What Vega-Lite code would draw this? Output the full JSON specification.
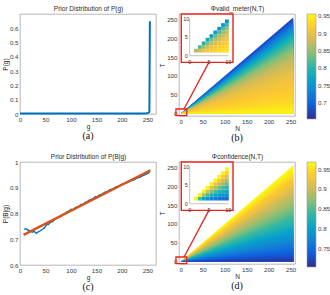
{
"$schema": "https://vega.github.io/schema/vega-lite/v6.json",
"background": "white",
"padding": {"left": 2, "top": 4, "right": 0, "bottom": 0},
"columns": 2,
"spacing": {"row": 45, "column": 23},
"bounds": "flush",
"align": "all",
"config": {
  "font": "Liberation Sans",
  "view": {"stroke": "#9a9a9a", "strokeWidth": 0.7},
  "axis": {"labelFont": "Liberation Sans", "labelFontSize": 6.2, "labelColor": "#3a3a3a", "titleFont": "Liberation Sans", "titleFontSize": 6.5, "titleFontWeight": "normal", "titleColor": "#2a2a2a", "ticks": false, "domain": false, "grid": false, "labelPadding": 2, "titlePadding": 1, "labelFlush": false, "labelOverlap": false},
  "legend": {"labelFont": "Liberation Sans", "labelFontSize": 6.2, "labelColor": "#3a3a3a", "gradientThickness": 9, "gradientLength": 105, "offset": 12, "labelOverlap": false, "gradientStrokeColor": "#9a9a9a", "gradientStrokeWidth": 0.6, "labelOffset": 2, "padding": 0},
  "title": {"font": "Liberation Serif", "fontSize": 10, "fontWeight": "normal", "color": "#111111", "orient": "bottom", "offset": 1}
},
"resolve": {"scale": {"color": "independent"}, "legend": {"color": "independent"}},
"datasets": {
  "a": [{"g":0,"p":0.004},{"g":50,"p":0.004},{"g":100,"p":0.004},{"g":150,"p":0.004},{"g":200,"p":0.004},{"g":240,"p":0.004},{"g":248,"p":0.005},{"g":252,"p":0.008},{"g":254,"p":0.015},{"g":255,"p":0.65}],
  "bc": [{"g":8,"y":0.738},{"g":12,"y":0.741},{"g":16,"y":0.735},{"g":20,"y":0.733},{"g":24,"y":0.727},{"g":28,"y":0.731},{"g":32,"y":0.723},{"g":36,"y":0.729},{"g":40,"y":0.733},{"g":44,"y":0.739},{"g":48,"y":0.744},{"g":52,"y":0.756},{"g":56,"y":0.758},{"g":60,"y":0.766},{"g":64,"y":0.768},{"g":68,"y":0.777},{"g":72,"y":0.781},{"g":76,"y":0.786},{"g":80,"y":0.788},{"g":84,"y":0.796},{"g":88,"y":0.798},{"g":92,"y":0.806},{"g":96,"y":0.809},{"g":100,"y":0.816},{"g":104,"y":0.814},{"g":108,"y":0.822},{"g":112,"y":0.826},{"g":116,"y":0.829},{"g":120,"y":0.835},{"g":124,"y":0.836},{"g":128,"y":0.843},{"g":132,"y":0.846},{"g":136,"y":0.852},{"g":140,"y":0.855},{"g":144,"y":0.859},{"g":148,"y":0.865},{"g":152,"y":0.866},{"g":156,"y":0.872},{"g":160,"y":0.874},{"g":164,"y":0.879},{"g":168,"y":0.884},{"g":172,"y":0.886},{"g":176,"y":0.892},{"g":180,"y":0.894},{"g":184,"y":0.898},{"g":188,"y":0.903},{"g":192,"y":0.905},{"g":196,"y":0.909},{"g":200,"y":0.914},{"g":204,"y":0.915},{"g":208,"y":0.918},{"g":212,"y":0.921},{"g":216,"y":0.926},{"g":220,"y":0.928},{"g":224,"y":0.931},{"g":228,"y":0.935},{"g":232,"y":0.939},{"g":236,"y":0.941},{"g":240,"y":0.946},{"g":244,"y":0.949},{"g":248,"y":0.953},{"g":252,"y":0.957},{"g":255,"y":0.962}],
  "fit": [{"g":7,"y":0.717},{"g":256,"y":0.968}],
  "bands": [
    {"k":0,"N":0,"hi":0,"vb":0.677,"vd":0.9675},{"k":0,"N":256,"hi":256,"vb":0.677,"vd":0.9675},
    {"k":1,"N":0,"hi":0,"vb":0.6925,"vd":0.9625},{"k":1,"N":256,"hi":249.6,"vb":0.6925,"vd":0.9625},
    {"k":2,"N":0,"hi":0,"vb":0.7075,"vd":0.9575},{"k":2,"N":256,"hi":243.2,"vb":0.7075,"vd":0.9575},
    {"k":3,"N":0,"hi":0,"vb":0.7225,"vd":0.9513},{"k":3,"N":256,"hi":236.8,"vb":0.7225,"vd":0.9513},
    {"k":4,"N":0,"hi":0,"vb":0.7375,"vd":0.9438},{"k":4,"N":256,"hi":230.4,"vb":0.7375,"vd":0.9438},
    {"k":5,"N":0,"hi":0,"vb":0.7525,"vd":0.9375},{"k":5,"N":256,"hi":224,"vb":0.7525,"vd":0.9375},
    {"k":6,"N":0,"hi":0,"vb":0.7675,"vd":0.9325},{"k":6,"N":256,"hi":217.6,"vb":0.7675,"vd":0.9325},
    {"k":7,"N":0,"hi":0,"vb":0.7813,"vd":0.9275},{"k":7,"N":256,"hi":211.2,"vb":0.7813,"vd":0.9275},
    {"k":8,"N":0,"hi":0,"vb":0.7938,"vd":0.9225},{"k":8,"N":256,"hi":204.8,"vb":0.7938,"vd":0.9225},
    {"k":9,"N":0,"hi":0,"vb":0.805,"vd":0.9163},{"k":9,"N":256,"hi":198.4,"vb":0.805,"vd":0.9163},
    {"k":10,"N":0,"hi":0,"vb":0.815,"vd":0.9088},{"k":10,"N":256,"hi":192,"vb":0.815,"vd":0.9088},
    {"k":11,"N":0,"hi":0,"vb":0.825,"vd":0.9025},{"k":11,"N":256,"hi":185.6,"vb":0.825,"vd":0.9025},
    {"k":12,"N":0,"hi":0,"vb":0.835,"vd":0.8975},{"k":12,"N":256,"hi":179.2,"vb":0.835,"vd":0.8975},
    {"k":13,"N":0,"hi":0,"vb":0.8438,"vd":0.8925},{"k":13,"N":256,"hi":172.8,"vb":0.8438,"vd":0.8925},
    {"k":14,"N":0,"hi":0,"vb":0.8513,"vd":0.8875},{"k":14,"N":256,"hi":166.4,"vb":0.8513,"vd":0.8875},
    {"k":15,"N":0,"hi":0,"vb":0.8588,"vd":0.8813},{"k":15,"N":256,"hi":160,"vb":0.8588,"vd":0.8813},
    {"k":16,"N":0,"hi":0,"vb":0.8663,"vd":0.8738},{"k":16,"N":256,"hi":153.6,"vb":0.8663,"vd":0.8738},
    {"k":17,"N":0,"hi":0,"vb":0.8725,"vd":0.8675},{"k":17,"N":256,"hi":147.2,"vb":0.8725,"vd":0.8675},
    {"k":18,"N":0,"hi":0,"vb":0.8775,"vd":0.8625},{"k":18,"N":256,"hi":140.8,"vb":0.8775,"vd":0.8625},
    {"k":19,"N":0,"hi":0,"vb":0.8825,"vd":0.8563},{"k":19,"N":256,"hi":134.4,"vb":0.8825,"vd":0.8563},
    {"k":20,"N":0,"hi":0,"vb":0.8875,"vd":0.8488},{"k":20,"N":256,"hi":128,"vb":0.8875,"vd":0.8488},
    {"k":21,"N":0,"hi":0,"vb":0.892,"vd":0.8425},{"k":21,"N":256,"hi":121.6,"vb":0.892,"vd":0.8425},
    {"k":22,"N":0,"hi":0,"vb":0.896,"vd":0.8375},{"k":22,"N":256,"hi":115.2,"vb":0.896,"vd":0.8375},
    {"k":23,"N":0,"hi":0,"vb":0.8998,"vd":0.8313},{"k":23,"N":256,"hi":108.8,"vb":0.8998,"vd":0.8313},
    {"k":24,"N":0,"hi":0,"vb":0.9033,"vd":0.8238},{"k":24,"N":256,"hi":102.4,"vb":0.9033,"vd":0.8238},
    {"k":25,"N":0,"hi":0,"vb":0.9063,"vd":0.8163},{"k":25,"N":256,"hi":96,"vb":0.9063,"vd":0.8163},
    {"k":26,"N":0,"hi":0,"vb":0.9088,"vd":0.8088},{"k":26,"N":256,"hi":89.6,"vb":0.9088,"vd":0.8088},
    {"k":27,"N":0,"hi":0,"vb":0.9113,"vd":0.8013},{"k":27,"N":256,"hi":83.2,"vb":0.9113,"vd":0.8013},
    {"k":28,"N":0,"hi":0,"vb":0.9138,"vd":0.7938},{"k":28,"N":256,"hi":76.8,"vb":0.9138,"vd":0.7938},
    {"k":29,"N":0,"hi":0,"vb":0.9163,"vd":0.7875},{"k":29,"N":256,"hi":70.4,"vb":0.9163,"vd":0.7875},
    {"k":30,"N":0,"hi":0,"vb":0.9188,"vd":0.7825},{"k":30,"N":256,"hi":64,"vb":0.9188,"vd":0.7825},
    {"k":31,"N":0,"hi":0,"vb":0.9213,"vd":0.7763},{"k":31,"N":256,"hi":57.6,"vb":0.9213,"vd":0.7763},
    {"k":32,"N":0,"hi":0,"vb":0.9238,"vd":0.7688},{"k":32,"N":256,"hi":51.2,"vb":0.9238,"vd":0.7688},
    {"k":33,"N":0,"hi":0,"vb":0.9263,"vd":0.7613},{"k":33,"N":256,"hi":44.8,"vb":0.9263,"vd":0.7613},
    {"k":34,"N":0,"hi":0,"vb":0.9288,"vd":0.7538},{"k":34,"N":256,"hi":38.4,"vb":0.9288,"vd":0.7538},
    {"k":35,"N":0,"hi":0,"vb":0.932,"vd":0.7463},{"k":35,"N":256,"hi":32,"vb":0.932,"vd":0.7463},
    {"k":36,"N":0,"hi":0,"vb":0.936,"vd":0.7388},{"k":36,"N":256,"hi":25.6,"vb":0.936,"vd":0.7388},
    {"k":37,"N":0,"hi":0,"vb":0.9405,"vd":0.7313},{"k":37,"N":256,"hi":19.2,"vb":0.9405,"vd":0.7313},
    {"k":38,"N":0,"hi":0,"vb":0.9455,"vd":0.7238},{"k":38,"N":256,"hi":12.8,"vb":0.9455,"vd":0.7238},
    {"k":39,"N":0,"hi":0,"vb":0.9505,"vd":0.7163},{"k":39,"N":256,"hi":6.4,"vb":0.9505,"vd":0.7163}
  ],
  "ins": [
    {"n":1,"t":1,"vb":0.86,"vd":0.965},
    {"n":2,"t":1,"vb":0.88,"vd":0.845},{"n":2,"t":2,"vb":0.82,"vd":0.965},
    {"n":3,"t":1,"vb":0.9,"vd":0.805},{"n":3,"t":2,"vb":0.85,"vd":0.885},{"n":3,"t":3,"vb":0.79,"vd":0.965},
    {"n":4,"t":1,"vb":0.91,"vd":0.785},{"n":4,"t":2,"vb":0.88,"vd":0.845},{"n":4,"t":3,"vb":0.84,"vd":0.905},{"n":4,"t":4,"vb":0.775,"vd":0.965},
    {"n":5,"t":1,"vb":0.92,"vd":0.773},{"n":5,"t":2,"vb":0.9,"vd":0.821},{"n":5,"t":3,"vb":0.87,"vd":0.869},{"n":5,"t":4,"vb":0.835,"vd":0.917},{"n":5,"t":5,"vb":0.765,"vd":0.965},
    {"n":6,"t":1,"vb":0.925,"vd":0.765},{"n":6,"t":2,"vb":0.91,"vd":0.805},{"n":6,"t":3,"vb":0.89,"vd":0.845},{"n":6,"t":4,"vb":0.865,"vd":0.885},{"n":6,"t":5,"vb":0.83,"vd":0.925},{"n":6,"t":6,"vb":0.76,"vd":0.965},
    {"n":7,"t":1,"vb":0.93,"vd":0.759},{"n":7,"t":2,"vb":0.92,"vd":0.794},{"n":7,"t":3,"vb":0.905,"vd":0.828},{"n":7,"t":4,"vb":0.885,"vd":0.862},{"n":7,"t":5,"vb":0.86,"vd":0.896},{"n":7,"t":6,"vb":0.825,"vd":0.931},{"n":7,"t":7,"vb":0.755,"vd":0.965},
    {"n":8,"t":1,"vb":0.935,"vd":0.755},{"n":8,"t":2,"vb":0.925,"vd":0.785},{"n":8,"t":3,"vb":0.915,"vd":0.815},{"n":8,"t":4,"vb":0.9,"vd":0.845},{"n":8,"t":5,"vb":0.88,"vd":0.875},{"n":8,"t":6,"vb":0.855,"vd":0.905},{"n":8,"t":7,"vb":0.82,"vd":0.935},{"n":8,"t":8,"vb":0.75,"vd":0.965},
    {"n":9,"t":1,"vb":0.94,"vd":0.752},{"n":9,"t":2,"vb":0.93,"vd":0.778},{"n":9,"t":3,"vb":0.92,"vd":0.805},{"n":9,"t":4,"vb":0.91,"vd":0.832},{"n":9,"t":5,"vb":0.895,"vd":0.858},{"n":9,"t":6,"vb":0.875,"vd":0.885},{"n":9,"t":7,"vb":0.85,"vd":0.912},{"n":9,"t":8,"vb":0.815,"vd":0.938},{"n":9,"t":9,"vb":0.745,"vd":0.965}
  ],
  "ticks": [{"tick":0},{"tick":5},{"tick":10}]
},
"concat": [
  {
    "width": 136, "height": 100,
    "title": {"text": "(a)"},
    "data": {"name": "a"},
    "layer": [
      {"mark": {"type": "line", "color": "#0072BD", "strokeWidth": 2},
       "encoding": {
         "x": {"field": "g", "type": "quantitative", "scale": {"domain": [0, 267], "nice": false, "zero": false}, "axis": {"values": [0,50,100,150,200,250], "title": "g"}},
         "y": {"field": "p", "type": "quantitative", "scale": {"domain": [0, 0.7], "nice": false}, "axis": {"values": [0,0.1,0.2,0.3,0.4,0.5,0.6], "format": "~g", "title": "P(g)"}}}},
      {"mark": {"type": "point", "opacity": 0},
       "encoding": {"x": {"field": "g", "type": "quantitative", "axis": {"orient": "top", "labels": false, "title": "Prior Distribution of P(g)", "titlePadding": 3}}}}
    ],
    "resolve": {"axis": {"x": "independent"}}
  },
  {
    "width": 116, "height": 102,
    "title": {"text": "(b)"},
    "layer": [
      {"data": {"name": "bands"}, "mark": {"type": "area", "orient": "vertical"},
       "encoding": {
         "x": {"field": "N", "type": "quantitative", "scale": {"domain": [-4, 260], "nice": false, "zero": false}, "axis": {"orient": "bottom", "values": [0,50,100,150,200,250], "title": "N"}},
         "y": {"field": "hi", "type": "quantitative", "stack": null, "scale": {"domain": [-7, 265], "nice": false, "zero": false}, "axis": {"orient": "left", "values": [0,50,100,150,200,250], "title": "T"}},
         "y2": {"datum": 0},
         "detail": {"field": "k", "type": "nominal"},
         "color": {"field": "vb", "type": "quantitative", "scale": {"domain": [0.655,0.6926,0.7303,0.7679,0.8055,0.8431,0.8808,0.9184,0.956], "range": ["#352a87","#0f5cdd","#1481d6","#06a4ca","#2eb7a4","#87bf77","#d1bb59","#fec832","#f9fb0e"], "interpolate": "rgb", "nice": false, "zero": false}, "legend": {"values": [0.7,0.75,0.8,0.85,0.9,0.95], "tickCount": 6, "format": "~g", "title": null, "labelOverlap": false}}}},
      {"data": {"name": "bands"}, "mark": {"type": "point", "opacity": 0},
       "encoding": {"x": {"field": "N", "type": "quantitative", "scale": {"domain": [-4, 260], "nice": false, "zero": false}, "axis": {"orient": "top", "labels": false, "title": "Φvalid_meter(N,T)", "titlePadding": 3}}}},
      {"data": {"values": [{}]}, "mark": {"type": "rect", "fillOpacity": 0, "stroke": "#e8231f", "strokeWidth": 1.3},
       "encoding": {"x": {"datum": -11, "scale": {"domain": [-4, 260], "nice": false, "zero": false}, "axis": null}, "x2": {"datum": 13.6}, "y": {"datum": -6, "scale": {"domain": [-7, 265], "nice": false, "zero": false}, "axis": null}, "y2": {"datum": 11.7}}},
      {"data": {"values": [{}]}, "mark": {"type": "rule", "color": "#e8231f", "strokeWidth": 1.3},
       "encoding": {"x": {"datum": 7.5, "scale": {"domain": [-4, 260], "nice": false, "zero": false}, "axis": null}, "x2": {"datum": 64}, "y": {"datum": 11.7, "scale": {"domain": [-7, 265], "nice": false, "zero": false}, "axis": null}, "y2": {"datum": 136}}},
      {"data": {"values": [{}]}, "mark": {"type": "rect", "fill": "white", "stroke": "#e8231f", "strokeWidth": 1.4},
       "encoding": {"x": {"datum": -2.18, "scale": {"domain": [-2.77, 27.28], "nice": false, "zero": false}, "axis": null}, "x2": {"datum": 11.22}, "y": {"datum": -1.83, "scale": {"domain": [-16.43, 11.36], "nice": false, "zero": false}, "axis": null}, "y2": {"datum": 11.36}}},
      {"data": {"name": "ins"}, "mark": {"type": "rect"},
       "encoding": {
         "x": {"field": "n", "type": "quantitative", "bin": {"binned": true, "step": 1}, "scale": {"domain": [-2.77, 27.28], "nice": false, "zero": false}, "axis": null},
         "y": {"field": "t", "type": "quantitative", "bin": {"binned": true, "step": 1}, "scale": {"domain": [-16.43, 11.36], "nice": false, "zero": false}, "axis": null},
         "color": {"field": "vb", "type": "quantitative", "scale": {"domain": [0.655,0.6926,0.7303,0.7679,0.8055,0.8431,0.8808,0.9184,0.956], "range": ["#352a87","#0f5cdd","#1481d6","#06a4ca","#2eb7a4","#87bf77","#d1bb59","#fec832","#f9fb0e"], "interpolate": "rgb", "nice": false, "zero": false}, "legend": {"values": [0.7,0.75,0.8,0.85,0.9,0.95], "tickCount": 6, "format": "~g", "title": null, "labelOverlap": false}}}},
      {"data": {"values": [{}]}, "mark": {"type": "rule", "color": "#9a9a9a", "strokeWidth": 0.6},
       "encoding": {"x": {"datum": 0, "scale": {"domain": [-2.77, 27.28], "nice": false, "zero": false}, "axis": null}, "x2": {"datum": 10}, "y": {"datum": 0, "scale": {"domain": [-16.43, 11.36], "nice": false, "zero": false}, "axis": null}}},
      {"data": {"values": [{}]}, "mark": {"type": "rule", "color": "#9a9a9a", "strokeWidth": 0.6},
       "encoding": {"x": {"datum": 0, "scale": {"domain": [-2.77, 27.28], "nice": false, "zero": false}, "axis": null}, "y": {"datum": 0, "scale": {"domain": [-16.43, 11.36], "nice": false, "zero": false}, "axis": null}, "y2": {"datum": 10}}},
      {"data": {"name": "ticks"}, "mark": {"type": "text", "fontSize": 5.5, "color": "#3a3a3a", "baseline": "middle"},
       "encoding": {"x": {"field": "tick", "type": "quantitative", "scale": {"domain": [-2.77, 27.28], "nice": false, "zero": false}, "axis": null}, "y": {"datum": -1.6, "scale": {"domain": [-16.43, 11.36], "nice": false, "zero": false}, "axis": null}, "text": {"field": "tick"}}},
      {"data": {"name": "ticks"}, "mark": {"type": "text", "fontSize": 5.5, "color": "#3a3a3a", "baseline": "middle"},
       "encoding": {"x": {"datum": -0.9, "scale": {"domain": [-2.77, 27.28], "nice": false, "zero": false}, "axis": null}, "y": {"field": "tick", "type": "quantitative", "scale": {"domain": [-16.43, 11.36], "nice": false, "zero": false}, "axis": null}, "text": {"field": "tick"}}}
    ],
    "resolve": {"scale": {"x": "independent", "y": "independent"}}
  },
  {
    "width": 136, "height": 103,
    "title": {"text": "(c)"},
    "layer": [
      {"data": {"name": "bc"}, "mark": {"type": "line", "color": "#0072BD", "strokeWidth": 1.4},
       "encoding": {
         "x": {"field": "g", "type": "quantitative", "scale": {"domain": [0, 267], "nice": false, "zero": false}, "axis": {"values": [0,50,100,150,200,250], "title": "g"}},
         "y": {"field": "y", "type": "quantitative", "scale": {"domain": [0.6, 1], "nice": false, "zero": false}, "axis": {"values": [0.6,0.7,0.8,0.9,1], "format": "~g", "title": "P(B|g)"}}}},
      {"data": {"name": "fit"}, "mark": {"type": "line", "color": "#D95319", "strokeWidth": 2.4},
       "encoding": {"x": {"field": "g", "type": "quantitative", "axis": null}, "y": {"field": "y", "type": "quantitative", "axis": {"values": [0.6,0.7,0.8,0.9,1], "format": "~g", "title": "P(B|g)"}}}},
      {"data": {"name": "fit"}, "mark": {"type": "point", "opacity": 0},
       "encoding": {"x": {"field": "g", "type": "quantitative", "axis": {"orient": "top", "labels": false, "title": "Prior Distribution of P(B|g)", "titlePadding": 3}}}}
    ],
    "resolve": {"axis": {"x": "independent"}}
  },
  {
    "width": 116, "height": 102,
    "title": {"text": "(d)"},
    "layer": [
      {"data": {"name": "bands"}, "mark": {"type": "area", "orient": "vertical"},
       "encoding": {
         "x": {"field": "N", "type": "quantitative", "scale": {"domain": [-4, 260], "nice": false, "zero": false}, "axis": {"orient": "bottom", "values": [0,50,100,150,200,250], "title": "N"}},
         "y": {"field": "hi", "type": "quantitative", "stack": null, "scale": {"domain": [-7, 265], "nice": false, "zero": false}, "axis": {"orient": "left", "values": [0,50,100,150,200,250], "title": "T"}},
         "y2": {"datum": 0},
         "detail": {"field": "k", "type": "nominal"},
         "color": {"field": "vd", "type": "quantitative", "scale": {"domain": [0.704,0.7371,0.7703,0.8034,0.8365,0.8696,0.9028,0.9359,0.969], "range": ["#352a87","#0f5cdd","#1481d6","#06a4ca","#2eb7a4","#87bf77","#d1bb59","#fec832","#f9fb0e"], "interpolate": "rgb", "nice": false, "zero": false}, "legend": {"values": [0.75,0.8,0.85,0.9,0.95], "tickCount": 6, "format": "~g", "title": null, "labelOverlap": false}}}},
      {"data": {"name": "bands"}, "mark": {"type": "point", "opacity": 0},
       "encoding": {"x": {"field": "N", "type": "quantitative", "scale": {"domain": [-4, 260], "nice": false, "zero": false}, "axis": {"orient": "top", "labels": false, "title": "Φconfidence(N,T)", "titlePadding": 3}}}},
      {"data": {"values": [{}]}, "mark": {"type": "rect", "fillOpacity": 0, "stroke": "#e8231f", "strokeWidth": 1.3},
       "encoding": {"x": {"datum": -11, "scale": {"domain": [-4, 260], "nice": false, "zero": false}, "axis": null}, "x2": {"datum": 13.6}, "y": {"datum": -6, "scale": {"domain": [-7, 265], "nice": false, "zero": false}, "axis": null}, "y2": {"datum": 11.7}}},
      {"data": {"values": [{}]}, "mark": {"type": "rule", "color": "#e8231f", "strokeWidth": 1.3},
       "encoding": {"x": {"datum": 7.5, "scale": {"domain": [-4, 260], "nice": false, "zero": false}, "axis": null}, "x2": {"datum": 64}, "y": {"datum": 11.7, "scale": {"domain": [-7, 265], "nice": false, "zero": false}, "axis": null}, "y2": {"datum": 136}}},
      {"data": {"values": [{}]}, "mark": {"type": "rect", "fill": "white", "stroke": "#e8231f", "strokeWidth": 1.4},
       "encoding": {"x": {"datum": -2.18, "scale": {"domain": [-2.77, 27.28], "nice": false, "zero": false}, "axis": null}, "x2": {"datum": 11.22}, "y": {"datum": -1.83, "scale": {"domain": [-16.43, 11.36], "nice": false, "zero": false}, "axis": null}, "y2": {"datum": 11.36}}},
      {"data": {"name": "ins"}, "mark": {"type": "rect"},
       "encoding": {
         "x": {"field": "n", "type": "quantitative", "bin": {"binned": true, "step": 1}, "scale": {"domain": [-2.77, 27.28], "nice": false, "zero": false}, "axis": null},
         "y": {"field": "t", "type": "quantitative", "bin": {"binned": true, "step": 1}, "scale": {"domain": [-16.43, 11.36], "nice": false, "zero": false}, "axis": null},
         "color": {"field": "vd", "type": "quantitative", "scale": {"domain": [0.704,0.7371,0.7703,0.8034,0.8365,0.8696,0.9028,0.9359,0.969], "range": ["#352a87","#0f5cdd","#1481d6","#06a4ca","#2eb7a4","#87bf77","#d1bb59","#fec832","#f9fb0e"], "interpolate": "rgb", "nice": false, "zero": false}, "legend": {"values": [0.75,0.8,0.85,0.9,0.95], "tickCount": 6, "format": "~g", "title": null, "labelOverlap": false}}}},
      {"data": {"values": [{}]}, "mark": {"type": "rule", "color": "#9a9a9a", "strokeWidth": 0.6},
       "encoding": {"x": {"datum": 0, "scale": {"domain": [-2.77, 27.28], "nice": false, "zero": false}, "axis": null}, "x2": {"datum": 10}, "y": {"datum": 0, "scale": {"domain": [-16.43, 11.36], "nice": false, "zero": false}, "axis": null}}},
      {"data": {"values": [{}]}, "mark": {"type": "rule", "color": "#9a9a9a", "strokeWidth": 0.6},
       "encoding": {"x": {"datum": 0, "scale": {"domain": [-2.77, 27.28], "nice": false, "zero": false}, "axis": null}, "y": {"datum": 0, "scale": {"domain": [-16.43, 11.36], "nice": false, "zero": false}, "axis": null}, "y2": {"datum": 10}}},
      {"data": {"name": "ticks"}, "mark": {"type": "text", "fontSize": 5.5, "color": "#3a3a3a", "baseline": "middle"},
       "encoding": {"x": {"field": "tick", "type": "quantitative", "scale": {"domain": [-2.77, 27.28], "nice": false, "zero": false}, "axis": null}, "y": {"datum": -1.6, "scale": {"domain": [-16.43, 11.36], "nice": false, "zero": false}, "axis": null}, "text": {"field": "tick"}}},
      {"data": {"name": "ticks"}, "mark": {"type": "text", "fontSize": 5.5, "color": "#3a3a3a", "baseline": "middle"},
       "encoding": {"x": {"datum": -0.9, "scale": {"domain": [-2.77, 27.28], "nice": false, "zero": false}, "axis": null}, "y": {"field": "tick", "type": "quantitative", "scale": {"domain": [-16.43, 11.36], "nice": false, "zero": false}, "axis": null}, "text": {"field": "tick"}}}
    ],
    "resolve": {"scale": {"x": "independent", "y": "independent"}}
  }
]
}
